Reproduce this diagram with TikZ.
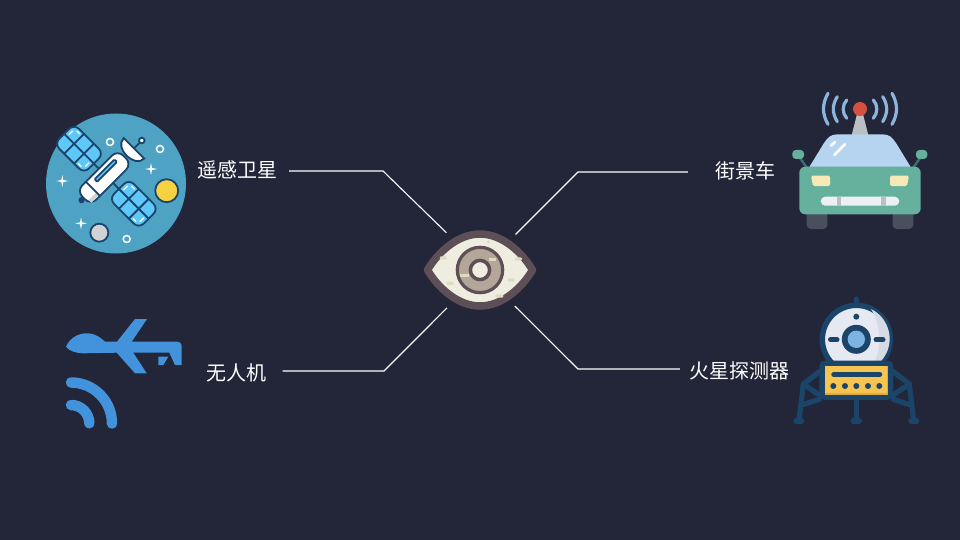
\documentclass[tikz,border=0pt]{standalone}
\usepackage{fontspec}
\setmainfont{Noto Sans CJK SC}
\definecolor{bgdark}{RGB}{35,37,56}
\definecolor{satblue}{RGB}{78,163,197}
\definecolor{satnavy}{RGB}{26,68,108}
\definecolor{panelblue}{RGB}{94,200,248}
\definecolor{sunyellow}{RGB}{246,209,66}
\definecolor{rockgrey}{RGB}{208,210,212}
\definecolor{droneblue}{RGB}{66,147,219}
\definecolor{eyerim}{RGB}{93,79,85}
\definecolor{eyewhite}{RGB}{239,237,224}
\definecolor{eyeiris}{RGB}{180,167,154}
\definecolor{eyespot}{RGB}{222,220,191}
\definecolor{cargreen}{RGB}{102,176,158}
\definecolor{carglass}{RGB}{182,211,239}
\definecolor{cartyre}{RGB}{74,79,94}
\definecolor{carwave}{RGB}{141,180,220}
\definecolor{carred}{RGB}{212,80,63}
\definecolor{carmast}{RGB}{185,191,196}
\definecolor{carlamp}{RGB}{246,233,182}
\definecolor{cargrill}{RGB}{237,240,242}
\definecolor{cararm}{RGB}{63,107,114}
\definecolor{landnavy}{RGB}{26,68,104}
\definecolor{landdome}{RGB}{230,233,242}
\definecolor{landshade}{RGB}{214,218,228}
\definecolor{landblue}{RGB}{125,179,227}
\definecolor{landbox}{RGB}{245,196,81}
\definecolor{landedge}{RGB}{222,170,70}
\begin{document}
\begin{tikzpicture}[
	x=1pt,
	y=-1pt,
	lbl/.style={text=white, font=\fontsize{20}{24}\selectfont, inner ysep=2pt},
	wire/.style={draw=white, line width=1.1pt},
	satline/.style={draw=satnavy, line width=1.8pt},
	ringdot/.style={draw=white, line width=1.5pt},
	wave/.style={draw=carwave, line width=3.2pt, line cap=round},
	leg/.style={draw=landnavy, line width=5.2pt, line cap=round},
	]
\fill[bgdark] (0,0) rectangle (960,540);
\useasboundingbox (0,0) rectangle (960,540);

% satellite
\fill[satblue] (116,183.5) circle (70);
\draw[satline] (79,148.7) -- (133.8,203.8);
\foreach \px/\py in {79/148.7, 133.8/203.8}{
\begin{scope}[shift={(\px,\py)}, rotate=-45]
\draw[satline, fill=panelblue, rounded corners=7pt] (-21,-14) rectangle (21,14);
\draw[satline] (-21,0) -- (21,0);
\draw[satline] (-7,-14) -- (-7,14);
\draw[satline] (7,-14) -- (7,14);
\draw[white, line width=1.3pt, line cap=round] (-17,-8) -- (-17,-3);
\draw[white, line width=1.3pt, line cap=round] (-14,-11) -- (-10,-11);
\draw[white, line width=1.3pt, line cap=round] (17,8) -- (17,3);
\draw[white, line width=1.3pt, line cap=round] (14,11) -- (10,11);
\end{scope}
}
\begin{scope}[shift={(104.2,177.5)}, rotate=45]
\draw[satline, fill=satnavy] (-32,0) circle (2.2);
\draw[satline, fill=white, rounded corners=8pt] (-29,-10) rectangle (29,10);
\fill[rockgrey] (-27,5) rectangle (-16,8.8);
\draw[satline] (-16,-10) -- (-16,10);
\draw[satline, fill=panelblue, rounded corners=1pt] (-8,-5.5) rectangle (20,-2);
\end{scope}
\begin{scope}[shift={(134,148.3)}, rotate=-45]
\draw[satline] (0,0) -- (0,-11);
\draw[satline, fill=white] (-14.5,0) .. controls (-14.5,14) and (14.5,14) .. (14.5,0) -- cycle;
\draw[satline, fill=white] (0,-11) circle (2.8);
\end{scope}
\foreach \rx/\ry in {110/142, 160/149, 126.7/239}{
\draw[ringdot] (\rx,\ry) circle (3.5);
}
\draw[satline, fill=sunyellow] (166.7,190.7) circle (11.5);
\draw[satline, fill=rockgrey] (99.3,232.7) circle (9);
\foreach \sx/\sy in {151/169, 62.3/181, 81/223.3}{
\fill[white] (\sx,\sy-6) -- (\sx+1,\sy-1) -- (\sx+6,\sy) -- (\sx+1,\sy+1) -- (\sx,\sy+6) -- (\sx-1,\sy+1) -- (\sx-6,\sy) -- (\sx-1,\sy-1) -- cycle;
}

% drone
\fill[droneblue] (66,346.7) .. controls (70,337) and (80,333) .. (87,333.3) .. controls (96,333.5) and (101,338) .. (105,341.7) -- (117,341.7) -- (135,319) -- (147,319) -- (131.7,341.7) -- (176.7,341.7) .. controls (180,341.7) and (181.7,343.5) .. (181.7,346.7) -- (181.7,365) -- (175,365) -- (169.3,352.7) -- (133.3,352.7) -- (146.7,373.3) -- (135,373.3) -- (116.7,352.7) -- (84,353.3) .. controls (76,353.3) and (69,351) .. (66,346.7) -- cycle;
\fill[droneblue] (158.3,356.7) -- (168.3,356.7) -- (163.3,365) -- (158.3,365) -- cycle;
\draw[droneblue, line width=10.5pt, line cap=round] (71,382.5) arc (-90:0:41);
\draw[droneblue, line width=10.5pt, line cap=round] (71,405) arc (-90:0:18.3);

% eye
\draw[eyerim, line width=7.5pt, line join=round, fill=eyewhite] (427.5,270) .. controls (438,252) and (458,234) .. (480,234) .. controls (502,234) and (522,252) .. (532.5,270) .. controls (522,288) and (502,306) .. (480,306) .. controls (458,306) and (438,288) .. (427.5,270) -- cycle;
\foreach \ex/\ey/\ew in {443.3/258/3.5, 450/283.3/3.5, 518.3/259/3.5, 511/280/3.5, 499.3/296/4}{
\fill[eyespot, rounded corners=1pt] (\ex-\ew,\ey-1.6) rectangle (\ex+\ew,\ey+1.6);
}
\fill[eyespot] (488.5,242) circle (1.6);
\draw[eyerim, line width=3.2pt, fill=eyeiris] (480,270) circle (22.7);
\fill[eyespot] (460,274) rectangle (469,276.5);
\fill[eyespot] (489,258) rectangle (496,260.5);
\draw[eyerim, line width=3.5pt, fill=eyewhite] (480,270) circle (9.6);
\node[circle, minimum size=100pt, inner sep=0pt] at (480,270) (eyehub){};

% street view car
\fill[cartyre, rounded corners=4pt] (806.7,205) rectangle (827.3,229);
\fill[cartyre, rounded corners=4pt] (892.7,205) rectangle (913.3,229);
\draw[cararm, line width=2.4pt] (800,158) -- (807,168);
\draw[cararm, line width=2.4pt] (920,158) -- (913,168);
\fill[cargreen, rounded corners=3.5pt] (792.3,150) rectangle (804,159);
\fill[cargreen, rounded corners=3.5pt] (916,150) rectangle (927.3,159);
\fill[carmast] (851.7,135) -- (857.3,113) -- (862.7,113) -- (868.3,135) -- cycle;
\fill[carred] (860,109) circle (7);
\fill[carglass] (809.3,167) -- (824,143) .. controls (828,137) and (831,134.3) .. (838,134.3) -- (882,134.3) .. controls (889,134.3) and (892,137) .. (896,143) -- (910.7,167) -- cycle;
\draw[white, line width=2.6pt, line cap=round] (831,145.7) -- (835,142);
\draw[white, line width=2.6pt, line cap=round] (834.3,155) -- (845,144.3);
\fill[cargreen, rounded corners=6pt] (799.3,166.7) rectangle (920.7,214.3);
\fill[carlamp, rounded corners=1.5pt] (811,175.7) -- (830,175.7) -- (830,186) -- (813,186) -- cycle;
\fill[carlamp, rounded corners=1.5pt] (909,175.7) -- (890,175.7) -- (890,186) -- (907,186) -- cycle;
\fill[cargrill, rounded corners=4.5pt] (820.7,196.7) rectangle (899.3,205.7);
\fill[carmast] (836.7,196.7) rectangle (841,205.7);
\fill[carmast] (881,196.7) rectangle (885.7,205.7);
\foreach \sd in {1,-1}{
\draw[wave] (860-\sd*32,93.3) .. controls (860-\sd*38,104) and (860-\sd*38,114) .. (860-\sd*32,124.3);
\draw[wave] (860-\sd*22.7,96.7) .. controls (860-\sd*28,105) and (860-\sd*28,113) .. (860-\sd*22.7,121.7);
\draw[wave] (860-\sd*13.3,100) .. controls (860-\sd*18,105) and (860-\sd*18,113) .. (860-\sd*13.3,118.3);
}

% mars lander
\draw[leg] (856.3,299) -- (856.3,305);
\draw[landnavy, line width=5.5pt, fill=landdome] (856.3,339.3) circle (34);
\fill[landshade] (871,309) arc (-64:64:33.2) .. controls (882,352) and (882,326) .. (871,309) -- cycle;
\fill[landnavy] (856.3,316.7) circle (3);
\draw[landnavy, line width=5pt, line cap=round] (830.5,339.7) -- (837,339.7);
\draw[landnavy, line width=5pt, line cap=round] (876,339.7) -- (883,339.7);
\fill[landnavy] (856.3,339.3) circle (14.5);
\fill[landblue] (856.3,339.3) circle (8.7);
\foreach \sd in {1,-1}{
\draw[leg] (856.3-\sd*37,371.7) -- (856.3-\sd*53,384) -- (856.3-\sd*57.3,420.7);
\draw[leg] (856.3-\sd*53,384) -- (856.3-\sd*37,395);
\draw[leg] (856.3-\sd*54.5,405) -- (856.3-\sd*37,399.3);
\draw[leg, line width=6pt] (856.3-\sd*60,420.7) -- (856.3-\sd*55,420.7);
}
\draw[leg] (856.3,399) -- (856.3,420.7);
\draw[leg, line width=6pt] (853.5,420.7) -- (859,420.7);
\fill[landnavy, rounded corners=5pt] (819.3,360.7) rectangle (893.3,399.8);
\fill[landedge] (825,366) rectangle (888.3,395);
\fill[landbox] (825,366) rectangle (887,393.2);
\draw[landnavy, line width=5.5pt, line cap=round] (834,374.3) -- (879.5,374.3);
\foreach \dx in {833.3,845,856.3,868,879.3}{
\fill[landnavy] (\dx,386) circle (3);
}

% labels
\node[lbl, inner xsep=12pt] at (237,170) (sat){遥感卫星};
\node[lbl, inner xsep=27pt] at (745,171) (car){街景车};
\node[lbl, inner xsep=16pt] at (236.5,372.5) (uav){无人机};
\node[lbl, inner xsep=9pt] at (739,370.5) (rover){火星探测器};

\coordinate (satbend) at (383,171);
\coordinate (carbend) at (578,172);
\coordinate (uavbend) at (384,371);
\coordinate (roverbend) at (578,369);

\draw[wire] (sat.east |- satbend) -- (satbend) -- (eyehub.132);
\draw[wire] (car.west |- carbend) -- (carbend) -- (eyehub.45);
\draw[wire] (uav.east |- uavbend) -- (uavbend) -- (eyehub.229);
\draw[wire] (rover.west |- roverbend) -- (roverbend) -- (eyehub.314);
\end{tikzpicture}
\end{document}
